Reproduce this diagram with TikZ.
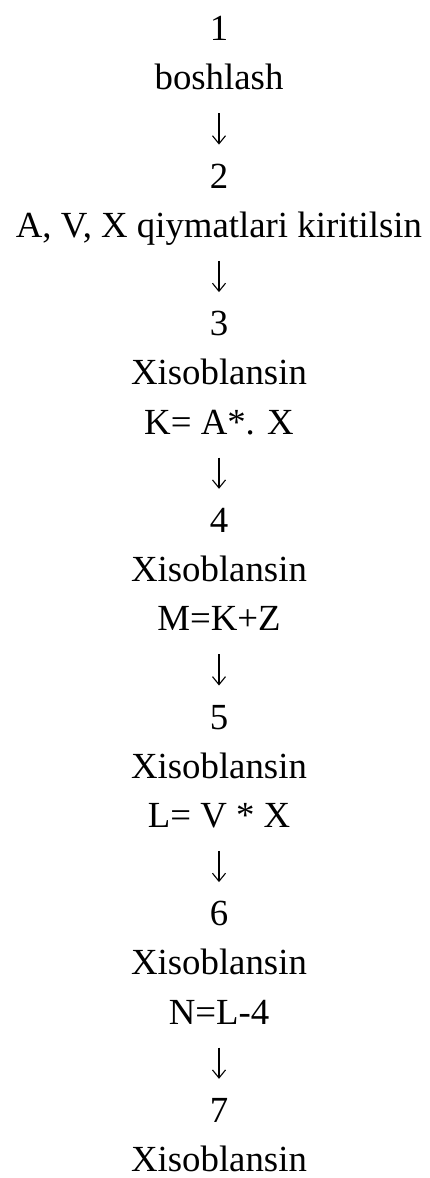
\documentclass[tikz,border=0pt]{standalone}
\usepackage{fontspec}
\setmainfont{Liberation Serif}
\usetikzlibrary{arrows.meta}

\tikzset{
  line/.style={inner sep=0pt,anchor=base,text height=7pt,text depth=2pt,
    font=\fontsize{18.4}{22}\selectfont},
  flow/.style={-{Straight Barb[length=4pt,width=6.5pt]},line width=0.55pt,
    shorten <=9.5pt,shorten >=14.6pt}
}

\begin{document}
\begin{tikzpicture}[x=0.5pt,y=0.5pt]
  \useasboundingbox (0,0) rectangle (429,-1178);

  % step 1
  \node[line] (n1) at (219,-40.7) {1};
  \node[line] (t1) at (219,-89.9) {boshlash};
  % step 2
  \node[line] (n2) at (219,-188.2) {2};
  \node[line] (t2) at (219,-237.4) {A, V, X qiymatlari kiritilsin};
  % step 3
  \node[line] (n3) at (219,-335.7) {3};
  \node[line] (h3) at (219,-384.9) {Xisoblansin};
  \node[line] (t3) at (219,-434.1) {K= A*. X};
  % step 4
  \node[line] (n4) at (219,-532.4) {4};
  \node[line] (h4) at (219,-581.6) {Xisoblansin};
  \node[line] (t4) at (219,-630.7) {M=K+Z};
  % step 5
  \node[line] (n5) at (219,-729.1) {5};
  \node[line] (h5) at (219,-778.2) {Xisoblansin};
  \node[line] (t5) at (219,-827.4) {L= V * X};
  % step 6
  \node[line] (n6) at (219,-925.7) {6};
  \node[line] (h6) at (219,-974.9) {Xisoblansin};
  \node[line] (t6) at (219,-1024.1) {N=L-4};
  % step 7
  \node[line] (n7) at (219,-1122.4) {7};
  \node[line] (h7) at (219,-1171.6) {Xisoblansin};

  \draw[flow] (t1) -- (n2);
  \draw[flow] (t2) -- (n3);
  \draw[flow] (t3) -- (n4);
  \draw[flow] (t4) -- (n5);
  \draw[flow] (t5) -- (n6);
  \draw[flow] (t6) -- (n7);
\end{tikzpicture}
\end{document}
